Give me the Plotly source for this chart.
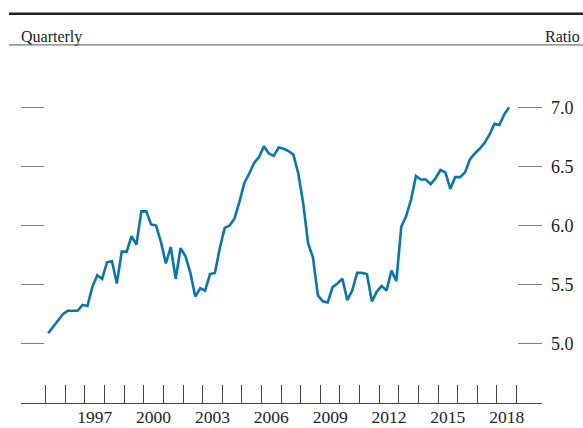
import plotly.graph_objects as go

# Quarterly data, 1995:Q1 - 2018:Q3
quarters = [f"{y}Q{q}" for y in range(1995, 2019) for q in range(1, 5)][:95]
ratio = [
    5.09, 5.14, 5.20, 5.25, 5.28, 5.28, 5.28, 5.33, 5.32, 5.48,
    5.58, 5.55, 5.69, 5.70, 5.51, 5.78, 5.78, 5.91, 5.84, 6.12,
    6.12, 6.01, 6.00, 5.86, 5.68, 5.82, 5.55, 5.81, 5.74, 5.60,
    5.40, 5.47, 5.45, 5.59, 5.60, 5.81, 5.98, 6.00, 6.06, 6.20,
    6.36, 6.44, 6.53, 6.58, 6.67, 6.61, 6.59, 6.66, 6.65, 6.63,
    6.60, 6.44, 6.19, 5.85, 5.73, 5.41, 5.36, 5.35, 5.48, 5.51,
    5.55, 5.37, 5.45, 5.60, 5.60, 5.59, 5.36, 5.44, 5.49, 5.45,
    5.62, 5.53, 5.99, 6.08, 6.22, 6.42, 6.39, 6.39, 6.35, 6.40,
    6.47, 6.45, 6.31, 6.41, 6.41, 6.45, 6.56, 6.61, 6.65, 6.70,
    6.77, 6.86, 6.85, 6.94, 7.00,
]
year_labels = ["1997", "2000", "2003", "2006", "2009", "2012", "2015", "2018"]
y_ticks = [5.0, 5.5, 6.0, 6.5, 7.0]
y_ticktext = ["5.0", "5.5", "6.0", "6.5", "7.0"]

# Mid-quarter positions in fractional years
xpos = [int(s[:4]) + (int(s[5]) - 0.5) / 4 for s in quarters]

X_RANGE = [1993.74, 2020.30]
Y_RANGE = [4.5, 7.4]
FONT = "Liberation Serif, Times New Roman, serif"

fig = go.Figure()
fig.add_trace(go.Scatter(
    x=xpos, y=ratio, mode="lines",
    line=dict(color="#0b76a8", width=2.6),
    hoverinfo="skip", showlegend=False,
))
# invisible trace on left y-axis to make it render
fig.add_trace(go.Scatter(x=[xpos[0]], y=[ratio[0]], yaxis="y2", mode="lines",
                         line=dict(width=0), hoverinfo="skip", showlegend=False))

year_bounds = [X_RANGE[0] + 0.002] + list(range(1995, 2020)) + [X_RANGE[1] - 0.002]

fig.update_layout(
    width=583, height=428,
    margin=dict(l=21, r=41, t=60, b=25),
    paper_bgcolor="white", plot_bgcolor="white",
    font=dict(family=FONT, size=18, color="#222222"),
    xaxis=dict(
        range=X_RANGE, showgrid=False, zeroline=False, automargin=False,
        showline=True, linecolor="#444444", linewidth=1.2,
        tickvals=[int(y) + 0.5 for y in year_labels], ticktext=year_labels,
        ticks="inside", ticklen=0, tickcolor="white",
        ticklabelstandoff=-2,
        tickfont=dict(family=FONT, size=17.5, color="#222222"),
        minor=dict(tickvals=year_bounds, ticks="inside", ticklen=18,
                   tickcolor="#444444", tickwidth=1.2),
    ),
    yaxis=dict(
        range=Y_RANGE, side="right", showgrid=False, zeroline=False,
        automargin=False,
        showline=False, tickvals=y_ticks, ticktext=y_ticktext,
        ticks="inside", ticklen=24, tickcolor="#808080", tickwidth=1.3,
        ticklabelstandoff=8,
        tickfont=dict(family=FONT, size=18, color="#222222"),
    ),
    yaxis2=dict(
        range=Y_RANGE, side="left", overlaying="y", showgrid=False,
        zeroline=False, showline=False, tickvals=y_ticks, automargin=False,
        showticklabels=False, ticks="inside", ticklen=23,
        tickcolor="#808080", tickwidth=1.3,
    ),
    shapes=[
        dict(type="line", xref="paper", yref="paper",
             x0=-0.023, x1=1.08, y0=1.135, y1=1.135,
             line=dict(color="#222222", width=2.6)),
        dict(type="line", xref="paper", yref="paper",
             x0=-0.023, x1=1.08, y0=1.044, y1=1.044,
             line=dict(color="#555555", width=1)),
    ],
    annotations=[
        dict(text="Quarterly", xref="paper", yref="paper", x=-0.004, y=1.068,
             xanchor="left", yanchor="middle", showarrow=False,
             font=dict(family=FONT, size=16, color="#222222")),
        dict(text="Ratio", xref="paper", yref="paper", x=1.077, y=1.068,
             xanchor="right", yanchor="middle", showarrow=False,
             font=dict(family=FONT, size=16, color="#222222")),
    ],
)

fig.write_html(
    "out.html",
    config={"displayModeBar": False},
    post_script="document.body.style.margin='0';document.body.style.overflow='hidden';",
)
